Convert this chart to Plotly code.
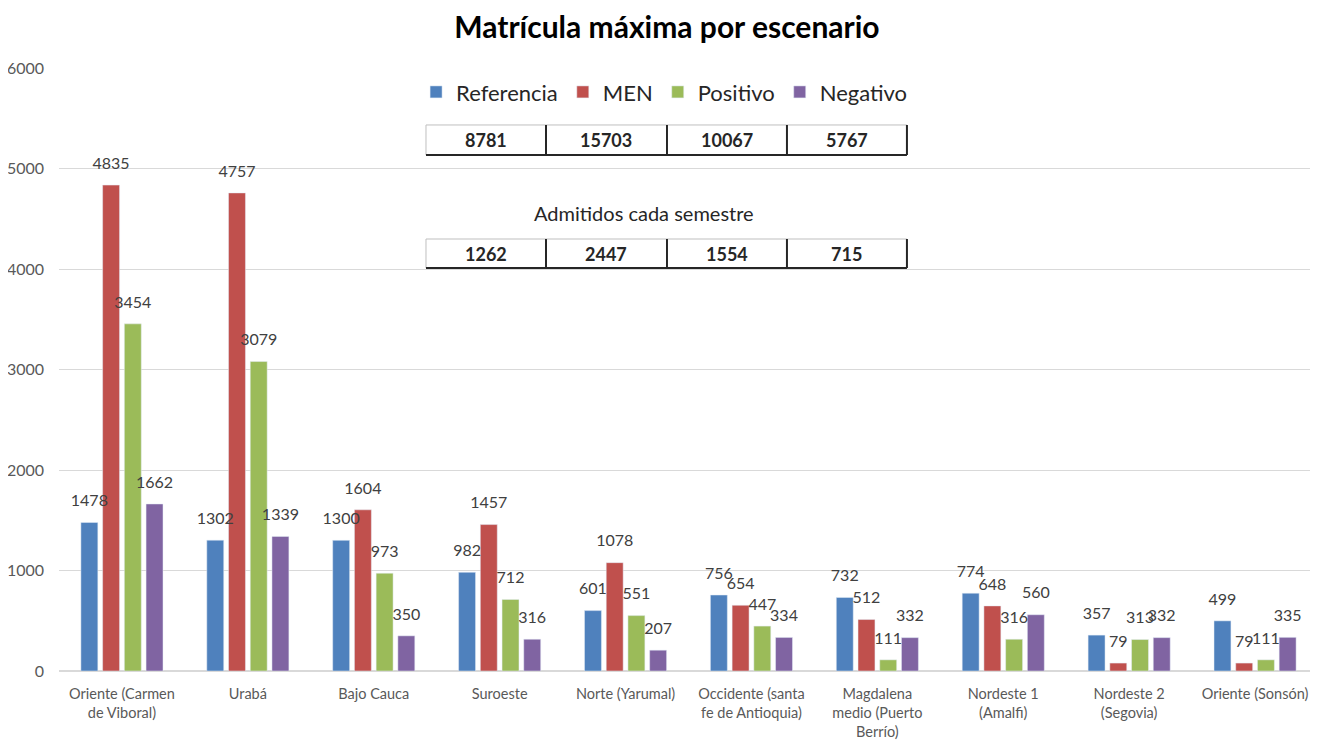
import plotly.graph_objects as go

categories = ["Oriente (Carmen<br>de Viboral)", "Urabá", "Bajo Cauca", "Suroeste",
              "Norte (Yarumal)", "Occidente (santa<br>fe de Antioquia)",
              "Magdalena<br>medio (Puerto<br>Berrío)", "Nordeste 1<br>(Amalfi)",
              "Nordeste 2<br>(Segovia)", "Oriente (Sonsón)"]
referencia = [1478, 1302, 1300, 982, 601, 756, 732, 774, 357, 499]
men = [4835, 4757, 1604, 1457, 1078, 654, 512, 648, 79, 79]
positivo = [3454, 3079, 973, 712, 551, 447, 111, 316, 313, 111]
negativo = [1662, 1339, 350, 316, 207, 334, 332, 560, 332, 335]

series_names = ["Referencia", "MEN", "Positivo", "Negativo"]
colors = ["#4F81BD", "#C0504D", "#9BBB59", "#8064A2"]
matricula_total = ["8781", "15703", "10067", "5767"]
admitidos = ["1262", "2447", "1554", "715"]

FONT = "Lato, Open Sans, sans-serif"

fig = go.Figure()
all_series = [referencia, men, positivo, negativo]
for name, vals, c in zip(series_names, all_series, colors):
    fig.add_trace(go.Bar(
        x=categories, y=vals, name=name, marker_color=c, offsetgroup=name,
    ))
# data labels as grouped text scatter (offset above bars via invisible markers)
for name, vals in zip(series_names, all_series):
    fig.add_trace(go.Scatter(
        x=categories, y=vals, mode="markers+text", text=vals, textposition="top center",
        marker=dict(size=18, opacity=0), offsetgroup=name, showlegend=False,
        cliponaxis=False, hoverinfo="skip",
        textfont=dict(size=16, color="#404040", family=FONT),
    ))

fig.update_layout(
    width=1310, height=738,
    paper_bgcolor="white", plot_bgcolor="white",
    margin=dict(l=51, r=0, t=60, b=75, autoexpand=False),
    barmode="group", bargap=0.31, bargroupgap=0.22,
    scattermode="group", scattergap=0.31,
    title=dict(text="<b>Matrícula máxima por escenario</b>", x=0.503, xanchor="center",
               y=0.973, yanchor="middle",
               font=dict(size=30, color="black", family=FONT)),
    font=dict(family=FONT),
    legend=dict(orientation="h", x=0.481, xanchor="center", y=0.96, yanchor="middle",
                font=dict(size=22, color="#262626", family=FONT),
                itemwidth=30, traceorder="normal"),
    showlegend=True,
)
fig.update_yaxes(range=[0, 6000], dtick=1000, showgrid=True, gridcolor="#D9D9D9",
                 zeroline=True, zerolinecolor="#D9D9D9", ticks="", ticklen=0,
                 tickfont=dict(size=16, color="#595959", family=FONT),
                 ticklabelstandoff=14, automargin=False)
fig.update_xaxes(showline=True, linecolor="#D9D9D9", ticks="",
                 tickfont=dict(size=14.5, color="#595959", family=FONT),
                 tickangle=0, ticklabelstandoff=10, automargin=False)

# table boxes
xs = [0.2915, 0.3868, 0.4829, 0.5782, 0.6735]
rows = [(0.8557, 0.9055, matricula_total), (0.6683, 0.7164, admitidos)]
for y0, y1, vals in rows:
    fig.add_shape(type="rect", xref="paper", yref="paper", x0=xs[0], x1=xs[-1], y0=y0, y1=y1,
                  line=dict(color="#BFBFBF", width=1), fillcolor="white", layer="above")
    fig.add_shape(type="line", xref="paper", yref="paper", x0=xs[0], x1=xs[-1], y0=y0, y1=y0,
                  line=dict(color="#262626", width=2), layer="above")
    fig.add_shape(type="line", xref="paper", yref="paper", x0=xs[-1], x1=xs[-1], y0=y0, y1=y1,
                  line=dict(color="#262626", width=2), layer="above")
    for i in range(1, 4):
        fig.add_shape(type="line", xref="paper", yref="paper", x0=xs[i], x1=xs[i], y0=y0, y1=y1,
                      line=dict(color="#262626", width=2), layer="above")
    for i, v in enumerate(vals):
        fig.add_annotation(xref="paper", yref="paper", x=(xs[i] + xs[i + 1]) / 2,
                           y=(y0 + y1) / 2, yanchor="middle", xanchor="center",
                           text=f"<b>{v}</b>", showarrow=False,
                           font=dict(size=18, color="#262626", family=FONT))

fig.add_annotation(xref="paper", yref="paper", x=0.4647, y=0.7595, yanchor="middle",
                   xanchor="center", text="Admitidos cada semestre", showarrow=False,
                   font=dict(size=20, color="#262626", family=FONT))

fig.write_html("out.html")
